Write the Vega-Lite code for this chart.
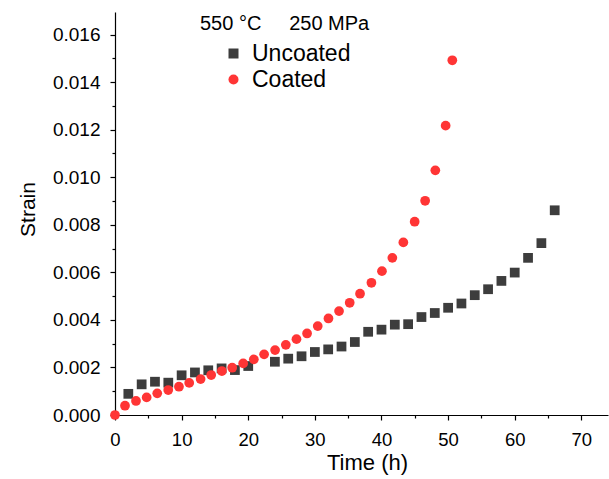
{
  "$schema": "https://vega.github.io/schema/vega-lite/v6.json",
  "width": 493,
  "height": 403,
  "autosize": "none",
  "padding": {"left": 115, "top": 12, "right": 1, "bottom": 64},
  "background": "white",
  "title": {
    "text": "550 °C\u00a0\u00a0\u00a0\u00a0\u00a0250 MPa",
    "anchor": "start",
    "frame": "group",
    "dx": 85,
    "offset": -38,
    "baseline": "alphabetic",
    "fontSize": 20,
    "fontWeight": "normal",
    "color": "black"
  },
  "config": {
    "font": "Liberation Sans",
    "view": {"stroke": null},
    "axis": {
      "grid": false,
      "domainColor": "black",
      "domainWidth": 1.2,
      "tickColor": "black",
      "tickWidth": 1.2,
      "labelColor": "black",
      "titleColor": "black",
      "titleFontWeight": "normal",
      "labelFlush": false
    }
  },
  "datasets": {
    "pts": [
      {"series": "Uncoated", "time": 2, "strain": 0.00089},
      {"series": "Uncoated", "time": 4, "strain": 0.00129},
      {"series": "Uncoated", "time": 6, "strain": 0.00140},
      {"series": "Uncoated", "time": 8, "strain": 0.00136},
      {"series": "Uncoated", "time": 10, "strain": 0.00167},
      {"series": "Uncoated", "time": 12, "strain": 0.00179},
      {"series": "Uncoated", "time": 14, "strain": 0.00188},
      {"series": "Uncoated", "time": 16, "strain": 0.00196},
      {"series": "Uncoated", "time": 18, "strain": 0.00189},
      {"series": "Uncoated", "time": 20, "strain": 0.00206},
      {"series": "Uncoated", "time": 24, "strain": 0.00224},
      {"series": "Uncoated", "time": 26, "strain": 0.00237},
      {"series": "Uncoated", "time": 28, "strain": 0.00247},
      {"series": "Uncoated", "time": 30, "strain": 0.00265},
      {"series": "Uncoated", "time": 32, "strain": 0.00276},
      {"series": "Uncoated", "time": 34, "strain": 0.00288},
      {"series": "Uncoated", "time": 36, "strain": 0.00307},
      {"series": "Uncoated", "time": 38, "strain": 0.00350},
      {"series": "Uncoated", "time": 40, "strain": 0.00359},
      {"series": "Uncoated", "time": 42, "strain": 0.00380},
      {"series": "Uncoated", "time": 44, "strain": 0.00382},
      {"series": "Uncoated", "time": 46, "strain": 0.00412},
      {"series": "Uncoated", "time": 48, "strain": 0.00429},
      {"series": "Uncoated", "time": 50, "strain": 0.00451},
      {"series": "Uncoated", "time": 52, "strain": 0.00469},
      {"series": "Uncoated", "time": 54, "strain": 0.00504},
      {"series": "Uncoated", "time": 56, "strain": 0.00529},
      {"series": "Uncoated", "time": 58, "strain": 0.00564},
      {"series": "Uncoated", "time": 60, "strain": 0.00599},
      {"series": "Uncoated", "time": 62, "strain": 0.00661},
      {"series": "Uncoated", "time": 64, "strain": 0.00723},
      {"series": "Uncoated", "time": 66, "strain": 0.00861},
      {"series": "Coated", "time": 0, "strain": 0.0},
      {"series": "Coated", "time": 1.5, "strain": 0.00039},
      {"series": "Coated", "time": 3.15, "strain": 0.00059},
      {"series": "Coated", "time": 4.75, "strain": 0.00074},
      {"series": "Coated", "time": 6.34, "strain": 0.00091},
      {"series": "Coated", "time": 7.99, "strain": 0.00105},
      {"series": "Coated", "time": 9.6, "strain": 0.00119},
      {"series": "Coated", "time": 11.14, "strain": 0.00135},
      {"series": "Coated", "time": 12.85, "strain": 0.00151},
      {"series": "Coated", "time": 14.44, "strain": 0.00168},
      {"series": "Coated", "time": 16.04, "strain": 0.00185},
      {"series": "Coated", "time": 17.59, "strain": 0.00199},
      {"series": "Coated", "time": 19.24, "strain": 0.00217},
      {"series": "Coated", "time": 20.84, "strain": 0.00234},
      {"series": "Coated", "time": 22.38, "strain": 0.00255},
      {"series": "Coated", "time": 24.03, "strain": 0.00273},
      {"series": "Coated", "time": 25.64, "strain": 0.00295},
      {"series": "Coated", "time": 27.24, "strain": 0.00319},
      {"series": "Coated", "time": 28.83, "strain": 0.00343},
      {"series": "Coated", "time": 30.43, "strain": 0.00374},
      {"series": "Coated", "time": 32.04, "strain": 0.00406},
      {"series": "Coated", "time": 33.63, "strain": 0.00437},
      {"series": "Coated", "time": 35.23, "strain": 0.00472},
      {"series": "Coated", "time": 36.78, "strain": 0.00510},
      {"series": "Coated", "time": 38.49, "strain": 0.00556},
      {"series": "Coated", "time": 40.07, "strain": 0.00605},
      {"series": "Coated", "time": 41.63, "strain": 0.00661},
      {"series": "Coated", "time": 43.28, "strain": 0.00726},
      {"series": "Coated", "time": 44.98, "strain": 0.00813},
      {"series": "Coated", "time": 46.55, "strain": 0.00901},
      {"series": "Coated", "time": 48.08, "strain": 0.01029},
      {"series": "Coated", "time": 49.63, "strain": 0.01217},
      {"series": "Coated", "time": 50.63, "strain": 0.01492}
    ]
  },
  "data": {"name": "pts"},
  "layer": [
    {
      "mark": {"type": "point", "opacity": 0},
      "encoding": {
        "x": {
          "field": "time", "type": "quantitative",
          "scale": {"domain": [0, 74], "nice": false, "zero": false},
          "axis": {"orient": "bottom", "values": [5, 15, 25, 35, 45, 55, 65], "labels": false, "domain": false, "tickSize": 3, "title": null}
        },
        "y": {
          "field": "strain", "type": "quantitative",
          "scale": {"domain": [0, 0.01695], "nice": false},
          "axis": {"orient": "left", "values": [0.001, 0.003, 0.005, 0.007, 0.009, 0.011, 0.013, 0.015], "labels": false, "domain": false, "tickSize": 3, "title": null}
        }
      }
    },
    {
      "mark": {"type": "point", "filled": true, "opacity": 1, "size": 95},
      "encoding": {
        "x": {
          "field": "time", "type": "quantitative",
          "scale": {"domain": [0, 74], "nice": false, "zero": false},
          "axis": {
            "orient": "bottom",
            "values": [0, 10, 20, 30, 40, 50, 60, 70],
            "tickSize": 5,
            "labelPadding": 10,
            "labelFontSize": 18.5,
            "labelFlush": false,
            "title": "Time (h)",
            "titleFontSize": 22,
            "titleBaseline": "alphabetic",
            "titleX": 252,
            "titleY": 54
          }
        },
        "y": {
          "field": "strain", "type": "quantitative",
          "scale": {"domain": [0, 0.01695], "nice": false},
          "axis": {
            "orient": "left",
            "values": [0, 0.002, 0.004, 0.006, 0.008, 0.01, 0.012, 0.014, 0.016],
            "format": ".3f",
            "tickSize": 5,
            "labelPadding": 10,
            "labelFontSize": 19,
            "labelFlush": false,
            "title": "Strain",
            "titleFontSize": 21,
            "titleBaseline": "alphabetic",
            "titleAngle": -90,
            "titleX": -81,
            "titleY": 197
          }
        },
        "color": {
          "field": "series", "type": "nominal",
          "scale": {"domain": ["Uncoated", "Coated"], "range": ["#3d3d3d", "#ff3535"]},
          "legend": {"orient": "none", "legendX": 107, "legendY": 30, "title": null, "labelFontSize": 23, "symbolSize": 100, "labelOffset": 7, "rowPadding": 2, "padding": 0, "labelColor": "black"}
        },
        "shape": {
          "field": "series", "type": "nominal",
          "scale": {"domain": ["Uncoated", "Coated"], "range": ["square", "circle"]},
          "legend": {"orient": "none", "legendX": 107, "legendY": 30, "title": null, "labelFontSize": 23, "symbolSize": 100, "labelOffset": 7, "rowPadding": 2, "padding": 0, "labelColor": "black"}
        }
      }
    }
  ],
  "resolve": {"axis": {"x": "independent", "y": "independent"}}
}
